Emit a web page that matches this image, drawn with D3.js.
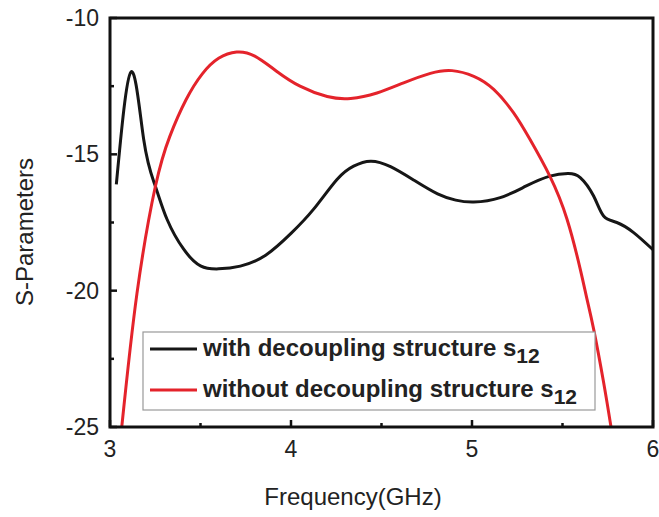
<!DOCTYPE html>
<html>
<head>
<meta charset="utf-8">
<script src="https://cdnjs.cloudflare.com/ajax/libs/d3/7.8.5/d3.min.js"></script>
<style>
  body { margin: 0; background: #fff; }
  text { font-family: "Liberation Sans", Arial, sans-serif; fill: #222; }
</style>
</head>
<body>
<div id="chart"></div>
<script>
// data (frequency in GHz, S12 in dB)
var withFreq = [3.035, 3.116, 3.186, 3.25, 3.315, 3.407, 3.5, 3.6, 3.72, 3.86, 4.0, 4.125, 4.254, 4.346, 4.44,
  4.55, 4.68, 4.81, 4.91, 5.01, 5.156, 5.30, 5.43, 5.53, 5.598, 5.672, 5.727, 5.80, 5.893, 6.0];
var withS12 = [-16.1, -11.98, -14.45, -16.16, -17.38, -18.48, -19.09, -19.2, -19.1, -18.7, -17.9, -17.01, -15.92, -15.43, -15.25,
  -15.45, -15.95, -16.45, -16.68, -16.75, -16.59, -16.16, -15.8, -15.7, -15.85, -16.53, -17.26, -17.5, -17.87, -18.5];

var withoutFreq = [3.065, 3.149, 3.25, 3.33, 3.42, 3.51, 3.6, 3.70, 3.80, 3.92, 4.05, 4.2, 4.33, 4.475,
  4.622, 4.77, 4.89, 5.01, 5.12, 5.23, 5.32, 5.43, 5.525, 5.598, 5.635, 5.672, 5.727, 5.768];
var withoutS12 = [-25, -20.1, -16.2, -14.35, -13.0, -12.05, -11.48, -11.25, -11.4, -11.95, -12.5, -12.88, -12.95, -12.75,
  -12.38, -12.03, -11.93, -12.14, -12.62, -13.48, -14.45, -15.8, -17.38, -19.21, -20.3, -21.41, -23.36, -25];

var xTicks = [3, 4, 5, 6];
var yTicks = [-10, -15, -20, -25];
var legendLabels = ["with decoupling structure s", "without decoupling structure s"];

var W = 659, H = 517;
var margin = { top: 18, right: 6, bottom: 90, left: 110 };
var width = W - margin.left - margin.right,
  height = H - margin.top - margin.bottom;

var svg = d3.select("#chart").append("svg")
  .attr("width", W).attr("height", H);

var g = svg.append("g")
  .attr("transform", "translate(" + margin.left + "," + margin.top + ")");

var x = d3.scaleLinear().domain([3, 6]).range([0, width]);
var y = d3.scaleLinear().domain([-25, -10]).range([height, 0]);

g.append("clipPath").attr("id", "clip")
  .append("rect").attr("width", width).attr("height", height);

// curves
var line = d3.line()
  .x(function (d) { return x(d[0]); })
  .y(function (d) { return y(d[1]); })
  .curve(d3.curveNatural);

var series = [
  { pts: d3.zip(withFreq, withS12), color: "#161616" },
  { pts: d3.zip(withoutFreq, withoutS12), color: "#e4232b" }
];

g.selectAll(".curve")
  .data(series)
  .enter().append("path")
  .attr("class", "curve")
  .attr("clip-path", "url(#clip)")
  .attr("d", function (d) { return line(d.pts); })
  .attr("fill", "none")
  .attr("stroke", function (d) { return d.color; })
  .attr("stroke-width", 3);

// ticks (inward), major + minor
var xMinor = [3.5, 4.5, 5.5];
var yMinor = [-12.5, -17.5, -22.5];

g.selectAll(".xt").data(xTicks.concat(xMinor)).enter().append("line")
  .attr("x1", function (d) { return x(d); }).attr("x2", function (d) { return x(d); })
  .attr("y1", height).attr("y2", function (d) { return height - (xTicks.indexOf(d) >= 0 ? 7 : 4); })
  .attr("stroke", "#111").attr("stroke-width", 2.5);

g.selectAll(".yt").data(yTicks.concat(yMinor)).enter().append("line")
  .attr("y1", function (d) { return y(d); }).attr("y2", function (d) { return y(d); })
  .attr("x1", 0).attr("x2", function (d) { return yTicks.indexOf(d) >= 0 ? 7 : 4; })
  .attr("stroke", "#111").attr("stroke-width", 2.5);

// frame
g.append("rect")
  .attr("width", width).attr("height", height)
  .attr("fill", "none").attr("stroke", "#111").attr("stroke-width", 3);

// tick labels
g.selectAll(".xl").data(xTicks).enter().append("text")
  .attr("x", function (d) { return x(d); })
  .attr("y", height + 30)
  .attr("text-anchor", "middle")
  .style("font-size", "23px")
  .text(function (d) { return d; });

g.selectAll(".yl").data(yTicks).enter().append("text")
  .attr("x", -11)
  .attr("y", function (d) { return y(d) + 8; })
  .attr("text-anchor", "end")
  .style("font-size", "23px")
  .text(function (d) { return d; });

// axis titles
svg.append("text")
  .attr("x", 353).attr("y", 505)
  .attr("text-anchor", "middle")
  .style("font-size", "24px")
  .text("Frequency(GHz)");

svg.append("text")
  .attr("transform", "translate(33,232)rotate(-90)")
  .attr("text-anchor", "middle")
  .style("font-size", "24px")
  .text("S-Parameters");

// legend
var lg = svg.append("g").attr("transform", "translate(143,332)");
lg.append("rect")
  .attr("width", 452).attr("height", 78)
  .attr("fill", "#fff").attr("stroke", "#999").attr("stroke-width", 1.2);

var rows = lg.selectAll(".lrow").data(series).enter().append("g")
  .attr("transform", function (d, i) { return "translate(0," + (17 + i * 41) + ")"; });

rows.append("line")
  .attr("x1", 7).attr("x2", 54).attr("y1", 0).attr("y2", 0)
  .attr("stroke", function (d) { return d.color; }).attr("stroke-width", 3);

var lt = rows.append("text")
  .attr("x", 60).attr("y", 7)
  .style("font-size", "24px").style("font-weight", "bold");
lt.append("tspan").text(function (d, i) { return legendLabels[i]; });
lt.append("tspan").attr("dy", 7).style("font-size", "21px").text("12");
</script>
</body>
</html>
